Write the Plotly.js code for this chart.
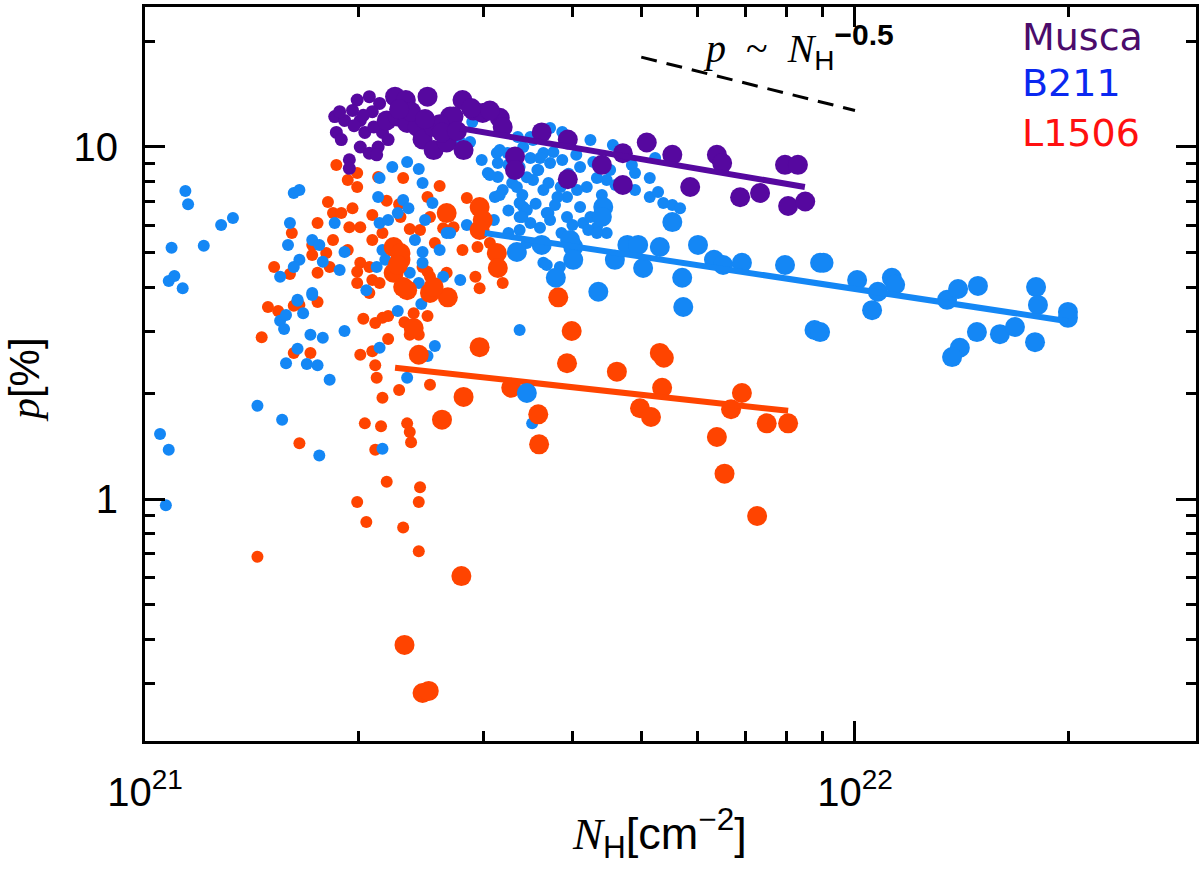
<!DOCTYPE html>
<html>
<head>
<meta charset="utf-8">
<script src="https://cdn.plot.ly/plotly-3.0.1.min.js"></script>
<style>
body { margin: 0; background: #fff; }
#myDiv { width: 1200px; height: 870px; }
</style>
</head>
<body>
<div id="myDiv"></div>
<script>
// N_H in units of 1e21 cm^-2, p in %

// Musca
muscaSmallNH = [1.85,1.99,2.07,2.14,1.86,1.89,1.94,1.94,2.01,2.07,2.13,2.01,2.04,2.16,1.96,1.91,2.09,2.20,2.12,1.88,2.03,2.18,2.10,1.97];
muscaSmallP  = [12.2,13.6,13.9,13.3,11.0,10.5,9.2,8.7,10.0,9.6,10.0,11.9,11.0,11.0,12.7,11.9,12.6,10.5,9.5,12.6,12.3,12.0,11.4,11.5];
muscaBigNH = [2.25,2.33,2.50,2.80,2.69,2.19,2.27,2.34,2.42,2.46,
              2.55,2.55,2.66,2.81,2.72,2.90,2.99,3.16,3.19,3.62,
              3.32,3.32,3.94,3.94,4.40,4.71,4.71,5.09,5.53,5.86,
              6.39,6.50,6.89,7.35,7.97,8.31,8.05,8.51,3.06,2.37,
              2.60,2.48,2.62,2.75,2.88,2.28];
muscaBigP  = [13.9,13.6,13.9,13.6,12.2,11.9,12.2,11.7,11.4,10.5,
              9.8,11.4,10.3,9.8,12.2,12.7,12.5,12.1,11.4,11.0,
              9.4,8.6,10.5,8.1,8.9,9.6,7.8,10.3,9.5,7.7,
              9.5,9.0,7.2,7.4,8.9,8.9,6.8,7.0,12.7,12.6,
              11.6,12.0,11.0,11.1,12.9,12.8];

// B211
b211SmallNH = [1.07,1.05,1.08,1.14,1.15,1.09,1.21,1.28,1.33,1.08,
               1.10,1.13,1.44,1.56,1.76,1.91,1.82,1.58,1.69,1.75,
               1.64,1.71,1.78,1.55,1.57,1.58,1.67,1.64,1.72,2.05,
               2.14,2.16,2.34,2.27,2.45,2.56,2.50,3.37,3.51,1.62,
               1.65,1.60,1.59,1.72,1.76,1.65,1.62,1.55,1.85,1.91,
               1.78,1.88,1.72,1.64,2.12,2.18,2.16,2.14,2.13,2.14,
               2.23,2.34,2.43,2.46,2.31,2.35,2.27,2.20,2.48,2.54,
               2.40,2.46,2.46,2.36,2.43,2.63,2.78,2.69,2.60,2.84,
               2.98,3.04,3.14,3.14,3.11,3.19,3.25,3.45,3.68,3.64,
               3.37,3.41,3.49,3.29,3.57,3.64,3.52,3.41,3.24,3.13,
               2.78,2.87,2.66,2.89,3.35,3.49,3.72,3.87,4.24,4.56,
               5.23,3.16,3.06,3.37,3.49,3.58,3.72,3.76,3.87,4.10,
               4.28,4.52,4.85,4.90,5.14,5.14,5.28,5.53,5.67,5.37,
               4.90,4.47,4.33,4.19,4.06,3.93,3.81,3.64,3.52,3.34,
               3.16,3.37,3.45,3.40,3.70,3.72,3.78,3.93,4.10,4.14,
               4.24,4.33,4.21,4.47,4.33,3.37,3.68,3.86,3.81,3.84,
               3.25,3.45,3.60,3.95,4.05,3.70,3.40,3.85,4.40,4.60,
               3.55,3.25,3.10,3.60,4.00];
b211SmallP  = [0.96,1.53,1.38,7.50,6.88,5.17,5.24,6.00,6.28,4.16,
               4.30,3.97,1.84,1.68,1.33,3.00,2.18,2.43,2.42,2.40,
               2.67,2.93,2.87,3.21,3.04,3.33,3.37,3.66,3.80,3.92,
               2.69,1.39,2.21,3.42,3.58,2.72,2.55,3.02,1.64,7.40,
               7.55,6.08,5.27,5.44,5.27,4.78,4.56,4.28,6.08,5.03,
               4.72,4.47,3.85,3.68,4.56,4.78,5.10,6.08,7.21,8.16,
               8.77,9.07,8.66,7.90,7.07,6.70,6.49,6.20,6.20,6.93,
               5.44,5.03,4.69,4.39,4.11,4.28,4.19,5.70,5.10,6.00,
               9.19,8.44,9.01,8.22,7.21,7.55,5.70,5.34,6.49,4.69,
               6.33,6.75,6.08,7.90,8.60,9.61,10.47,10.0,9.61,9.61,
               10.33,10.33,5.70,11.78,10.68,10.68,11.32,11.03,10.47,10.13,
               9.31,9.80,8.33,8.77,9.31,8.60,9.01,9.67,9.19,8.77,
               9.07,8.60,8.89,8.44,8.16,7.21,7.45,6.84,6.70,6.93,
               7.55,8.06,8.16,7.70,7.55,7.21,7.21,7.55,8.06,7.70,
               7.31,6.93,6.62,6.33,6.49,6.20,6.84,6.33,6.75,6.08,
               6.33,5.92,5.81,5.70,5.70,5.81,4.62,5.70,4.33,4.56,
               8.9,8.2,9.3,8.4,9.5,7.9,7.3,7.7,7.3,7.8,
               6.9,6.6,6.2,5.9,6.0];
b211BigNH = [3.45,3.34,3.62,4.01,4.01,4.59,4.78,4.95,5.31,6.01,
             5.03,5.71,5.73,6.33,6.52,6.93,7.97,8.93,10.07,8.77,
             4.35,3.79,4.42,4.40,5.53,3.97,10.77,10.57,11.27,11.39,
             13.48,13.97,14.90,14.85,14.05,13.70,16.0,16.80,17.93,17.99,
             18.10,19.95,19.95,8.93,9.03];
b211BigP  = [2.00,5.03,5.27,5.20,4.78,4.78,5.27,5.27,5.20,5.27,
             4.53,4.25,3.51,4.78,4.62,4.69,4.62,4.69,4.19,3.02,
             3.88,4.25,6.75,6.33,6.12,5.44,3.88,3.44,4.25,4.06,
             3.68,3.95,4.03,2.98,2.69,2.53,2.94,3.08,2.79,4.00,
             3.56,3.40,3.27,2.98,4.69];

// L1506
l1506SmallNH = [1.86,1.99,1.93,1.99,2.13,2.31,2.60,2.84,1.81,1.84,
                1.89,1.96,1.75,1.94,2.01,2.09,2.19,2.28,2.29,2.36,
                2.44,2.52,2.50,2.63,2.72,1.84,1.72,1.80,1.72,1.82,
                1.52,1.60,1.75,1.93,2.01,1.99,2.09,2.09,2.56,2.50,
                2.66,2.80,2.94,3.06,3.19,2.92,2.96,1.99,2.14,2.07,
                1.75,1.65,1.49,1.54,1.62,1.46,1.62,1.71,1.65,1.44,
                2.03,2.11,2.16,2.20,2.20,2.01,2.09,2.11,2.12,2.16,
                2.28,2.32,2.39,2.50,2.36,2.43,2.52,2.34,2.36,2.37,
                2.04,2.15,2.11,2.19,1.99,2.05,2.31,2.43,2.44,2.43,
                1.61,2.16,2.07,2.46,2.52];
l1506SmallP  = [8.89,8.44,8.06,7.70,8.22,8.16,7.75,7.16,6.98,6.49,
                6.49,6.70,6.08,5.92,5.92,6.41,7.03,6.88,6.33,5.85,
                5.81,6.33,7.21,5.88,5.92,5.44,5.27,5.00,4.93,4.56,
                4.56,4.36,4.39,5.10,4.69,4.42,5.44,4.19,5.34,4.42,
                4.39,5.10,5.20,5.34,4.11,4.28,3.97,4.11,4.11,3.85,
                3.63,3.56,3.51,3.42,3.54,2.88,2.60,2.60,1.44,0.685,
                3.25,3.16,3.27,3.31,2.85,2.57,2.63,2.40,2.21,1.94,
                2.04,3.18,3.37,3.31,2.93,2.93,2.11,1.64,1.55,1.45,
                1.64,1.61,1.38,1.12,0.98,0.86,0.83,0.98,1.08,0.71,
                5.70,5.70,4.56,4.56,4.28];
l1506BigNH = [2.24,2.29,2.24,2.34,2.52,2.67,2.29,2.27,2.31,2.96,
              2.99,2.96,3.13,3.14,2.66,2.39,2.43,2.96,2.81,2.62,
              3.28,3.58,3.59,3.82,3.99,3.93,4.62,5.31,5.38,5.35,
              4.98,5.16,6.93,6.69,7.51,8.05,6.39,6.55,7.28,2.79,
              2.32,2.46,2.51,2.55];
l1506BigP  = [5.20,4.78,4.39,3.92,3.85,3.74,5.00,4.62,4.00,6.75,
              6.20,5.81,5.00,4.53,6.49,3.06,2.57,2.70,1.95,1.68,
              2.07,1.74,1.43,3.74,3.00,2.43,2.30,2.60,2.52,2.07,
              1.81,1.71,2.00,1.80,1.64,1.64,1.50,1.18,0.895,0.604,
              0.385,0.281,0.285,4.00];

// power-law fits (end points) and the reference slope
muscaFitNH = [2.78, 8.50];  muscaFitP = [11.3, 7.70];
b211FitNH  = [3.01, 19.95]; b211FitP  = [5.70, 3.20];
l1506FitNH = [2.25, 8.05];  l1506FitP = [2.36, 1.78];
refNH = [5.0, 10.0];        refP = [18.0, 12.7];

purple = '#56089f';
blue = '#1487f5';
orange = '#ff4400';

function dots(x, y, color, size) {
  return {x: x, y: y, type: 'scatter', mode: 'markers',
          marker: {color: color, size: size, line: {width: 0}},
          hoverinfo: 'skip', showlegend: false};
}
function fit(x, y, color, width, dash) {
  return {x: x, y: y, type: 'scatter', mode: 'lines',
          line: {color: color, width: width, dash: dash || 'solid'},
          hoverinfo: 'skip', showlegend: false};
}

data = [
  dots(l1506SmallNH, l1506SmallP, orange, 12),
  dots(b211SmallNH, b211SmallP, blue, 12),
  dots(l1506BigNH, l1506BigP, orange, 20),
  fit(l1506FitNH, l1506FitP, orange, 6),
  dots(b211BigNH, b211BigP, blue, 20),
  fit(b211FitNH, b211FitP, blue, 6),
  dots(muscaSmallNH, muscaSmallP, purple, 13),
  dots(muscaBigNH, muscaBigP, purple, 20),
  fit(muscaFitNH, muscaFitP, purple, 6),
  fit(refNH, refP, 'black', 3, '16px,10px')
];

sans = 'Liberation Sans, Arial, sans-serif';
serif = 'Liberation Serif, Times New Roman, serif';

layout = {
  width: 1200, height: 870,
  margin: {l: 145, r: 4, t: 7, b: 129},
  paper_bgcolor: 'white', plot_bgcolor: 'white',
  hovermode: false,
  xaxis: {
    type: 'log', range: [0, 1.4803],
    tickmode: 'array', tickvals: [1, 10],
    ticktext: ['10<sup>21</sup>', '10<sup>22</sup>'],
    ticks: 'inside', ticklen: 20, tickwidth: 3, tickcolor: 'black',
    showline: true, linewidth: 3, linecolor: 'black', mirror: 'allticks',
    showgrid: false, zeroline: false,
    tickfont: {family: sans, size: 40, color: 'black'},
    ticklabelstandoff: 14,
    minor: {tickmode: 'array', tickvals: [2,3,4,5,6,7,8,9,20],
            ticks: 'inside', ticklen: 10, tickwidth: 3, tickcolor: 'black', showgrid: false}
  },
  yaxis: {
    type: 'log', range: [-0.6875, 1.3977],
    tickmode: 'array', tickvals: [1, 10], ticktext: ['1', '10'],
    ticks: 'inside', ticklen: 20, tickwidth: 3, tickcolor: 'black',
    showline: true, linewidth: 3, linecolor: 'black', mirror: 'allticks',
    showgrid: false, zeroline: false,
    tickfont: {family: sans, size: 40, color: 'black'},
    ticklabelstandoff: 16,
    minor: {tickmode: 'array', tickvals: [0.3,0.4,0.5,0.6,0.7,0.8,0.9,2,3,4,5,6,7,8,9,20],
            ticks: 'inside', ticklen: 10, tickwidth: 3, tickcolor: 'black', showgrid: false}
  },
  annotations: [
    {xref: 'paper', yref: 'paper', x: 0.8325, y: 0.9585, xanchor: 'left', yanchor: 'middle',
     text: 'Musca', showarrow: false, font: {family: 'DejaVu Sans', size: 38, color: '#4b0c6b'}},
    {xref: 'paper', yref: 'paper', x: 0.8325, y: 0.897, xanchor: 'left', yanchor: 'middle',
     text: 'B211', showarrow: false, font: {family: 'DejaVu Sans', size: 38, color: '#0a28f0'}},
    {xref: 'paper', yref: 'paper', x: 0.8325, y: 0.828, xanchor: 'left', yanchor: 'middle',
     text: 'L1506', showarrow: false, font: {family: 'DejaVu Sans', size: 38, color: '#ff1010'}},
    {xref: 'paper', yref: 'paper', x: 0.622, y: 0.945, xanchor: 'center', yanchor: 'middle',
     text: '<i>p</i>  ~  <i>N</i><sub><span style="font-family:Liberation Sans">H</span></sub>' +
           '<sup><b><span style="font-family:Liberation Sans;font-size:30px">\u22120.5</span></b></sup>',
     showarrow: false, font: {family: serif, size: 40, color: 'black'}},
    {xref: 'paper', yref: 'paper', x: 0.49, y: -0.126, xanchor: 'center', yanchor: 'middle',
     text: '<i>N</i><sub><span style="font-family:Liberation Sans">H</span></sub>' +
           '<span style="font-family:Liberation Sans">[cm<sup>\u22122</sup>]</span>',
     showarrow: false, font: {family: serif, size: 45, color: 'black'}},
    {xref: 'paper', yref: 'paper', x: -0.114, y: 0.492, xanchor: 'center', yanchor: 'middle',
     textangle: -90,
     text: '<i>p</i><span style="font-family:Liberation Sans">[%]</span>',
     showarrow: false, font: {family: serif, size: 42, color: 'black'}}
  ]
};

Plotly.newPlot('myDiv', data, layout, {staticPlot: true});
</script>
</body>
</html>
